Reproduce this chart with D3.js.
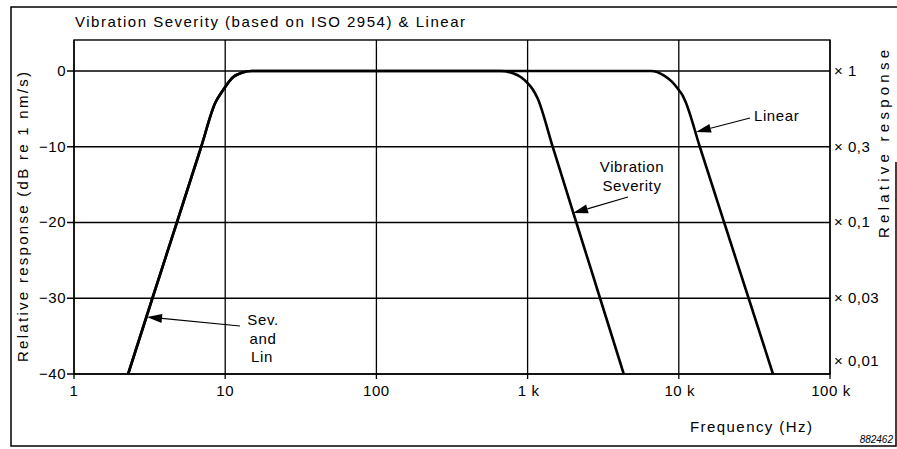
<!DOCTYPE html>
<html>
<head>
<meta charset="utf-8">
<script src="https://cdn.jsdelivr.net/npm/d3@7/dist/d3.min.js"></script>
<style>
  html, body { margin: 0; padding: 0; background: #fff; }
  svg { display: block; font-family: "Liberation Sans", Arial, Helvetica, sans-serif; }
</style>
</head>
<body>
<svg id="chart" width="897" height="449"></svg>
<script>
// ---------- data ----------
const xTickValues = [1, 10, 100, 1000, 10000, 100000];
const xTickLabels = ["1", "10", "100", "1 k", "10 k", "100 k"];
const yTickValues = [0, -10, -20, -30, -40];
const yTickLabels = ["0", "\u221210", "\u221220", "\u221230", "\u221240"];
const rightTickValues = [0, -10, -20, -30, -40];
const rightTickLabels = ["\u00d7 1", "\u00d7 0,3", "\u00d7 0,1", "\u00d7 0,03", "\u00d7 0,01"];

// shared low-frequency roll-off (Sev. and Lin) + flat part
const lowFreq = [2.28, 3.30, 4.79, 6.94, 8.6, 9.4, 10, 11.3, 13, 15];
const lowDb   = [-40, -30, -20, -10, -4.2, -2.9, -2.1, -0.8, -0.2, 0];
// vibration severity high-frequency roll-off
const vibFreq = [660, 800, 900, 1000, 1080, 1164, 1465, 2100, 3015, 4325];
const vibDb   = [0, -0.3, -0.8, -1.6, -2.4, -3.6, -10, -20, -30, -40];
// linear high-frequency roll-off
const linFreq = [6530, 8000, 9000, 10000, 10500, 10990, 13770, 19960, 28960, 41960];
const linDb   = [0, -0.6, -1.4, -2.5, -3.1, -3.9, -10, -20, -30, -40];

// ---------- layout ----------
const svg = d3.select("#chart");
const x = d3.scaleLog().domain([1, 100000]).range([74, 830]);
const y = d3.scaleLinear().domain([-40, 4.09]).range([374, 40]);

// outer frame
svg.append("path")
  .attr("d", "M896,162 V446 H11 V7 H897")
  .attr("fill", "none").attr("stroke", "#000").attr("stroke-width", 1.5);

// title
svg.append("text").attr("x", 75).attr("y", 27)
  .attr("font-size", 15).attr("textLength", 390).attr("lengthAdjust", "spacing")
  .text("Vibration Severity (based on ISO 2954) & Linear");

// plot box
svg.append("rect").attr("x", 74).attr("y", 40).attr("width", 756).attr("height", 334)
  .attr("fill", "none").attr("stroke", "#000").attr("stroke-width", 1.4);

// grid
const grid = svg.append("g").attr("stroke", "#000").attr("stroke-width", 1.3);
xTickValues.forEach(v => {
  grid.append("line").attr("x1", x(v)).attr("x2", x(v)).attr("y1", 40).attr("y2", 379);
});
yTickValues.forEach(v => {
  grid.append("line").attr("x1", 67).attr("x2", 830).attr("y1", y(v)).attr("y2", y(v));
});

// bottom axis labels
const xLab = svg.append("g").attr("font-size", 15).attr("letter-spacing", 0.6).attr("text-anchor", "middle");
xTickValues.forEach((v, i) => {
  xLab.append("text").attr("x", x(v) + (i >= 3 ? 1 : 0)).attr("y", 396).text(xTickLabels[i]);
});

// left axis labels
const yLab = svg.append("g").attr("font-size", 15).attr("letter-spacing", 0.5).attr("text-anchor", "end");
yTickValues.forEach((v, i) => {
  yLab.append("text").attr("x", 66).attr("y", y(v) + 5).text(yTickLabels[i]);
});

// right axis labels
const rLab = svg.append("g").attr("font-size", 15).attr("letter-spacing", 0.5);
rightTickValues.forEach((v, i) => {
  const off = i === rightTickValues.length - 1 ? -8 : 5;
  rLab.append("text").attr("x", 834).attr("y", y(v) + off).text(rightTickLabels[i]);
});

// axis titles
svg.append("text").attr("transform", "translate(28,217) rotate(-90)")
  .attr("text-anchor", "middle").attr("font-size", 15)
  .attr("textLength", 290).attr("lengthAdjust", "spacing")
  .text("Relative response (dB re 1 nm/s)");
svg.append("text").attr("transform", "translate(889,144) rotate(-90)")
  .attr("text-anchor", "middle").attr("font-size", 15)
  .attr("textLength", 188).attr("lengthAdjust", "spacing")
  .text("Relative response");
svg.append("text").attr("x", 690).attr("y", 432).attr("font-size", 15)
  .attr("textLength", 122).attr("lengthAdjust", "spacing")
  .text("Frequency (Hz)");
svg.append("text").attr("x", 893).attr("y", 443).attr("font-size", 10)
  .attr("font-style", "italic").attr("text-anchor", "end")
  .text("882462");

// curves
const line = d3.line().x(d => x(d[0])).y(d => y(d[1])).curve(d3.curveMonotoneX);
const lowPts = lowFreq.map((f, i) => [f, lowDb[i]]);
const vibPts = lowPts.concat(vibFreq.map((f, i) => [f, vibDb[i]]));
const linPts = lowPts.concat(linFreq.map((f, i) => [f, linDb[i]]));
[linPts, vibPts].forEach(pts => {
  svg.append("path").attr("d", line(pts))
    .attr("fill", "none").attr("stroke", "#000").attr("stroke-width", 2.6)
    .attr("stroke-linejoin", "round");
});

// annotations
function arrow(x1, y1, x2, y2) {
  const g = svg.append("g");
  const ang = Math.atan2(y2 - y1, x2 - x1);
  const L = 15, W = 4.5;
  const bx = x2 - L * Math.cos(ang), by = y2 - L * Math.sin(ang);
  g.append("line").attr("x1", x1).attr("y1", y1).attr("x2", bx).attr("y2", by)
    .attr("stroke", "#000").attr("stroke-width", 1.2);
  const px = -Math.sin(ang) * W, py = Math.cos(ang) * W;
  g.append("path")
    .attr("d", `M${x2},${y2} L${bx + px},${by + py} L${bx - px},${by - py} Z`)
    .attr("fill", "#000");
}
const ann = svg.append("g").attr("font-size", 15).attr("letter-spacing", 0.6);
ann.append("text").attr("x", 754).attr("y", 121).text("Linear");
arrow(750, 118, 696, 132);
ann.append("text").attr("x", 632).attr("y", 172).attr("text-anchor", "middle").text("Vibration");
ann.append("text").attr("x", 632).attr("y", 191).attr("text-anchor", "middle").text("Severity");
arrow(628, 197, 573, 213);
ann.append("text").attr("x", 263).attr("y", 325).attr("text-anchor", "middle").text("Sev.");
ann.append("text").attr("x", 263).attr("y", 344).attr("text-anchor", "middle").text("and");
ann.append("text").attr("x", 262).attr("y", 362).attr("text-anchor", "middle").text("Lin");
arrow(240, 326, 147, 317);
</script>
</body>
</html>
